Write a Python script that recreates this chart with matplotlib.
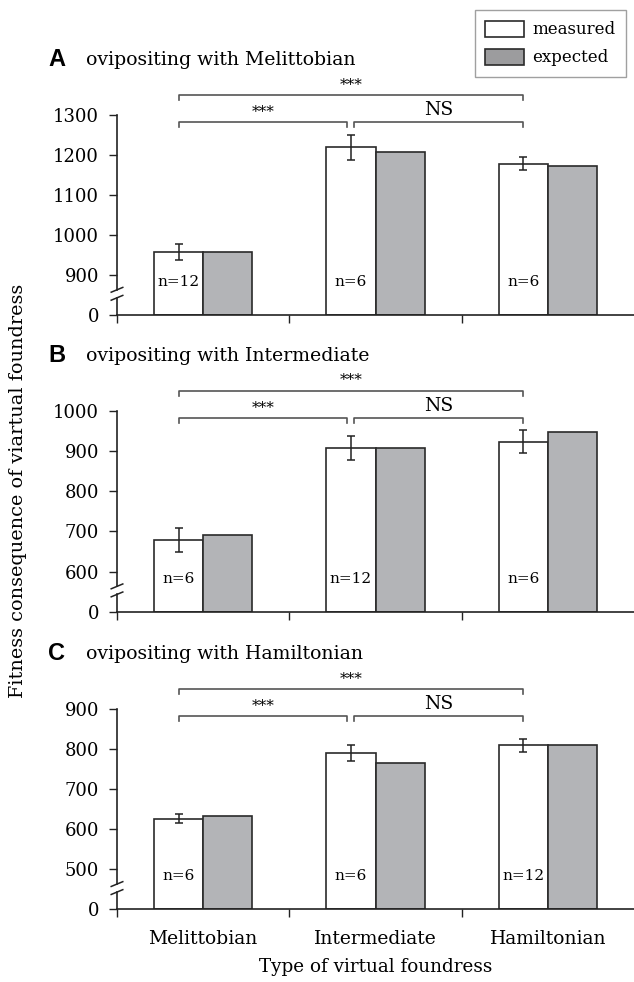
import numpy as np
import matplotlib
matplotlib.use("Agg")
import matplotlib.pyplot as plt
from matplotlib.patches import Patch

categories = ["Melittobian", "Intermediate", "Hamiltonian"]
panel_letters = ["A", "B", "C"]
panel_titles = ["ovipositing with Melittobian",
                "ovipositing with Intermediate",
                "ovipositing with Hamiltonian"]

measured_A = [957, 1219, 1178]
error_A = [20, 32, 16]
expected_A = [957, 1207, 1172]
n_A = [12, 6, 6]

measured_B = [678, 907, 923]
error_B = [29, 30, 29]
expected_B = [690, 908, 947]
n_B = [6, 12, 6]

measured_C = [626, 789, 809]
error_C = [11, 20, 16]
expected_C = [633, 764, 810]
n_C = [6, 6, 12]

# ticks above the axis break; the lowest tick stands for "0"
ticks_A = [900, 1000, 1100, 1200, 1300]
ticks_B = [600, 700, 800, 900, 1000]
ticks_C = [500, 600, 700, 800, 900]

panels = [
    (measured_A, error_A, expected_A, n_A, ticks_A),
    (measured_B, error_B, expected_B, n_B, ticks_B),
    (measured_C, error_C, expected_C, n_C, ticks_C),
]

plt.rcParams["font.family"] = "DejaVu Serif"

fig = plt.figure(figsize=(6.34, 9.82), dpi=100)

H = 982.0
W = 634.0
axes_px = [(115, 315), (410.7, 611.7), (709, 909.3)]  # (top, bottom) in pixels
left_px = 117

width = 0.285
x = np.arange(len(categories))
edge = "#2a2a2a"
grey = "#b3b4b7"
bracket_col = "#555555"

for i, (meas, err, expc, nn, ticks) in enumerate(panels):
    top_px, bot_px = axes_px[i]
    ax = fig.add_axes([left_px / W, 1 - bot_px / H, 1 - left_px / W, (bot_px - top_px) / H])
    step = ticks[1] - ticks[0]
    base = ticks[0] - step
    top = ticks[-1]

    ax.bar(x - width / 2, np.array(meas) - base, bottom=base, width=width,
           color="white", edgecolor=edge, linewidth=1.2, zorder=2)
    ax.bar(x + width / 2, np.array(expc) - base, bottom=base, width=width,
           color=grey, edgecolor=edge, linewidth=1.2, zorder=2)
    ax.errorbar(x - width / 2, meas, yerr=err, fmt="none", ecolor="#222222",
                elinewidth=1.1, capsize=3, capthick=1.1, zorder=3)

    for xi, n in zip(x, nn):
        ax.text(xi - width / 2, base + 0.82 * step, "n=%d" % n, ha="center", va="center",
                fontsize=11, zorder=4)

    ax.set_xlim(-0.5, 2.5)
    ax.set_ylim(base, top)

    # y axis with break
    ax.spines["left"].set_visible(False)
    ax.spines["right"].set_visible(False)
    ax.spines["top"].set_visible(False)
    ax.spines["bottom"].set_linewidth(1.2)
    ax.spines["bottom"].set_color("#222222")
    ytr = ax.get_yaxis_transform()
    lo, hi = base + 0.43 * step, base + 0.63 * step
    ax.plot([0, 0], [base, lo], transform=ytr, color="#222222", lw=1.2, clip_on=False)
    ax.plot([0, 0], [hi, top], transform=ytr, color="#222222", lw=1.2, clip_on=False)
    dx = 0.0112
    for yc in (lo, hi):
        ax.plot([-dx, dx], [yc - 0.06 * step, yc + 0.06 * step], transform=ytr,
                color="#222222", lw=1.1, clip_on=False)

    ax.set_yticks([base] + ticks)
    ax.set_yticklabels(["0"] + [str(t) for t in ticks], fontsize=13)
    ax.tick_params(axis="y", direction="out", length=6, width=1, color="#222222", pad=7)

    ax.set_xticks([-0.5, 0.5, 1.5])
    ax.set_xticklabels([])
    ax.tick_params(axis="x", which="major", direction="out", length=6, width=1, color="#222222")
    ax.set_xticks(x, minor=True)
    if i == 2:
        ax.set_xticklabels(categories, minor=True, fontsize=13.5)
        ax.tick_params(axis="x", which="minor", length=0, pad=15)
        ax.set_xlabel("Type of virtual foundress", fontsize=13.2, labelpad=7)
    else:
        ax.set_xticklabels([], minor=True)
        ax.tick_params(axis="x", which="minor", length=0)

    # significance brackets
    m = x - width / 2
    g = 0.02
    hook = 0.125 * step
    y_low = top - 0.18 * step
    y_high = top + 0.5 * step
    brackets = [(m[0], m[1] - g, y_low, "***", 11),
                (m[1] + g, m[2], y_low, "NS", 13.5),
                (m[0], m[2], y_high, "***", 11)]
    for x0, x1, yb, label, fs in brackets:
        ax.plot([x0, x0, x1, x1], [yb - hook, yb, yb, yb - hook], color=bracket_col,
                lw=1.2, clip_on=False)
        ax.text((x0 + x1) / 2, yb + 0.08 * step, label, ha="center", va="bottom",
                fontsize=fs, clip_on=False)

    # panel title
    ty = 1 - (top_px - 55) / H
    fig.text(48 / W, ty, panel_letters[i], fontsize=17, fontweight="bold",
             family="Liberation Sans", va="center", ha="left")
    fig.text(86 / W, ty, panel_titles[i], fontsize=13.6, va="center", ha="left")

fig.text(18 / W, 0.5, "Fitness consequence of viartual foundress", rotation=90,
         ha="center", va="center", fontsize=13.9)

handles = [Patch(facecolor="white", edgecolor=edge, linewidth=1.2),
           Patch(facecolor="#9c9c9e", edgecolor=edge, linewidth=1.2)]
leg = fig.legend(handles, ["measured", "expected"], loc="upper right",
                 bbox_to_anchor=(626 / W, 1 - 10 / H), fontsize=12, frameon=True,
                 fancybox=False, edgecolor="#888888", handlelength=2.3, handleheight=1.1,
                 borderpad=0.65, labelspacing=0.6, handletextpad=0.5, borderaxespad=0)
leg.get_frame().set_linewidth(1.0)

fig.savefig("out.png", dpi=100)
